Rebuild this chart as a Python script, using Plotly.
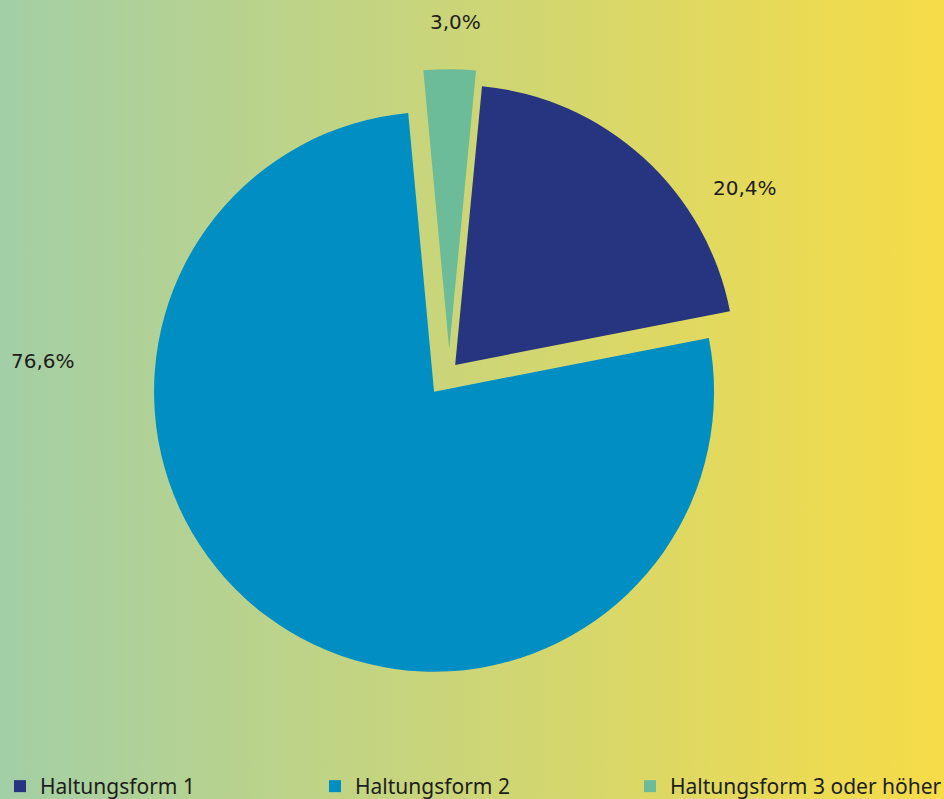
import base64
import plotly.graph_objects as go

# Data
labels = ["Haltungsform 1", "Haltungsform 2", "Haltungsform 3 oder höher"]
values = [20.4, 76.6, 3.0]
colors = ["#27347f", "#008ec3", "#6cbc99"]
pulls = [0.032, 0.09, 0.08]

def fmt(v):
    return f"{v:.1f}".replace(".", ",") + "%"

# Background gradient as an SVG image
svg = (
    '<svg xmlns="http://www.w3.org/2000/svg" width="944" height="799" preserveAspectRatio="none">'
    '<defs><linearGradient id="g" x1="0" y1="0" x2="1" y2="0">'
    '<stop offset="0" stop-color="#a3cfa6"/>'
    '<stop offset="1" stop-color="#f6dc47"/>'
    '</linearGradient></defs>'
    '<rect width="944" height="799" fill="url(#g)"/></svg>'
)
svg_uri = "data:image/svg+xml;base64," + base64.b64encode(svg.encode()).decode()

fig = go.Figure(
    go.Pie(
        labels=labels,
        values=values,
        marker=dict(colors=colors, line=dict(width=0)),
        pull=pulls,
        sort=False,
        direction="clockwise",
        rotation=5.5,
        textinfo="none",
        hovertemplate="%{label}: %{value}%<extra></extra>",
        domain=dict(x=[0.1525, 0.7991], y=[0.1530, 0.9170]),
    )
)

# Value labels
label_pos = [(0.789, 0.765), (0.046, 0.548), (0.482, 0.972)]
annotations = []
for v, (ax, ay) in zip(values, label_pos):
    annotations.append(
        dict(
            text=fmt(v), x=ax, y=ay, xref="paper", yref="paper",
            xanchor="center", yanchor="middle", showarrow=False,
            font=dict(family="DejaVu Sans", size=20, color="#1d1d1b"),
        )
    )

fig.update_layout(
    width=944,
    height=799,
    margin=dict(l=0, r=0, t=0, b=0, autoexpand=False),
    paper_bgcolor="#cdd577",
    plot_bgcolor="rgba(0,0,0,0)",
    images=[dict(
        source=svg_uri, xref="paper", yref="paper", x=0, y=1,
        sizex=1, sizey=1, xanchor="left", yanchor="top",
        sizing="stretch", layer="below",
    )],
    annotations=annotations,
    showlegend=True,
    legend=dict(
        orientation="h",
        x=0.0, y=-0.010, xanchor="left", yanchor="bottom",
        bgcolor="rgba(0,0,0,0)",
        font=dict(family="Noto Sans", size=21, color="#1d1d1b"),
        entrywidth=270,
        traceorder="normal",
    ),
    font=dict(family="Noto Sans"),
)

fig.write_html(
    "out.html",
    config={"displayModeBar": False},
    post_script="document.body.style.margin='0';document.body.style.overflow='hidden';",
)
